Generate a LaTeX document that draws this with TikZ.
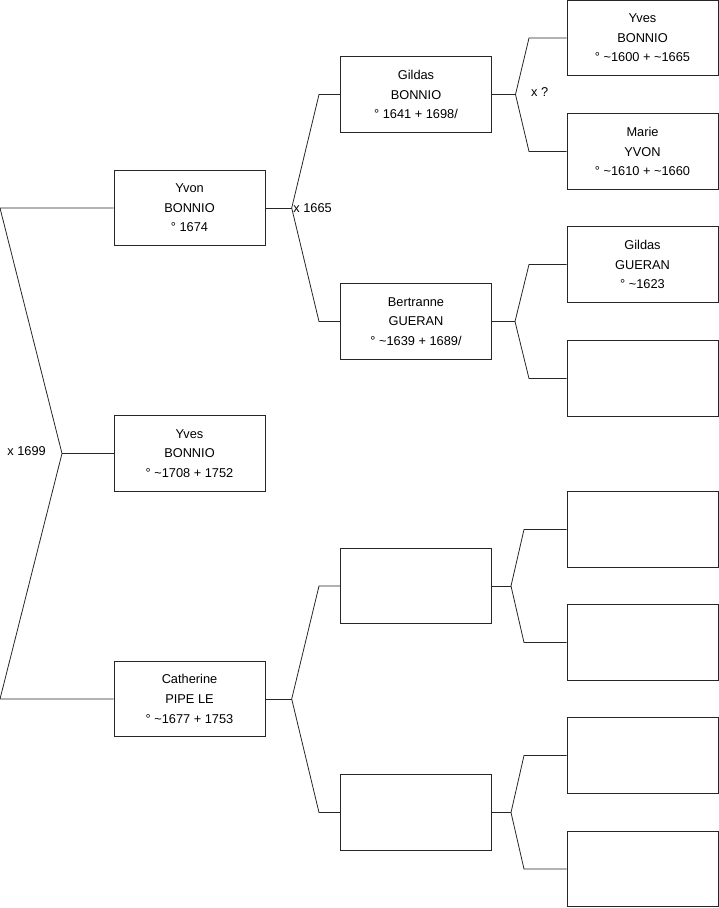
\documentclass[tikz,border=0pt]{standalone}
\usepackage{fontspec}
\setmainfont{Liberation Sans}
\usetikzlibrary{positioning, calc}
\tikzset{every node/.append style={align=center}}
\tikzset{
  person/.style={draw=black!85, line width=0.8pt, minimum width=151pt,
                 minimum height=75.5pt, inner sep=0pt,
                 font=\fontsize{12.8}{19.6}\selectfont},
  branch/.style={draw=black!85, line width=0.8pt},
  marr/.style={font=\fontsize{12.8}{14}\selectfont, inner sep=0pt}
}

\begin{document}
\begin{tikzpicture}[x=1pt,y=-1pt]
\useasboundingbox (0,0) rectangle (719,908);

% ── Generation 1 ─────────────────────────────────────────────────────────────
\node[person] (yvon) at (189.5,208)   {Yvon\\BONNIO\\° 1674};
\node[person] (yves) at (189.5,453.5) {Yves\\BONNIO\\° \textasciitilde1708 + 1752};
\node[person] (cath) at (189.5,699)   {Catherine\\PIPE LE\\° \textasciitilde1677 + 1753};

% ── Generation 2 ─────────────────────────────────────────────────────────────
\node[person] (gildas) at (416,94.5)  {Gildas\\BONNIO\\° 1641 + 1698/};
\node[person] (bert)   at (416,321.5) {Bertranne\\GUERAN\\° \textasciitilde1639 + 1689/};
\node[person] (ea)     at (416,586)   {};
\node[person] (eb)     at (416,812.5) {};

% ── Generation 3 ─────────────────────────────────────────────────────────────
\node[person] (yvesb)   at (642.5,38)    {Yves\\BONNIO\\° \textasciitilde1600 + \textasciitilde1665};
\node[person] (marie)   at (642.5,151.5) {Marie\\YVON\\° \textasciitilde1610 + \textasciitilde1660};
\node[person] (gildasg) at (642.5,264.5) {Gildas\\GUERAN\\° \textasciitilde1623};
\node[person] (ec)      at (642.5,378.5) {};
\node[person] (ed)      at (642.5,529.5) {};
\node[person] (ee)      at (642.5,642.5) {};
\node[person] (ef)      at (642.5,755.5) {};
\node[person] (eg)      at (642.5,869)   {};

% ── Left fork ────────────────────────────────────────────────────────────────
\coordinate (jroot) at (62,453.5);
\draw[branch] (yvon.west) -- (yvon.west -| 0,0) -- (jroot)
              -- (cath.west -| 0,0) -- (cath.west);
\draw[branch] (jroot) -- (yves.west);
\node[marr, anchor=east] at ($(jroot)+(-16,-2)$) {x 1699};

% ── Parent forks ─────────────────────────────────────────────────────────────
\foreach \pa/\jx/\bx/\ca/\cb in {yvon/291.7/319/gildas/bert, cath/291.7/319/ea/eb,
                                 gildas/515.5/529/yvesb/marie, bert/515/529/gildasg/ec,
                                 ea/511/524/ed/ee, eb/511/524/ef/eg} {
  \coordinate (j\pa) at (\pa.east -| \jx,0);
  \draw[branch] (\pa.east) -- (j\pa);
  \draw[branch] (j\pa) -- (\ca.west -| \bx,0) -- (\ca.west);
  \draw[branch] (j\pa) -- (\cb.west -| \bx,0) -- (\cb.west);
}
\node[marr, anchor=west] at ($(jyvon)+(1.5,0)$) {x 1665};
\node[marr, anchor=west] at ($(jgildas)+(15.5,-2)$) {x ?};

\end{tikzpicture}
\end{document}
